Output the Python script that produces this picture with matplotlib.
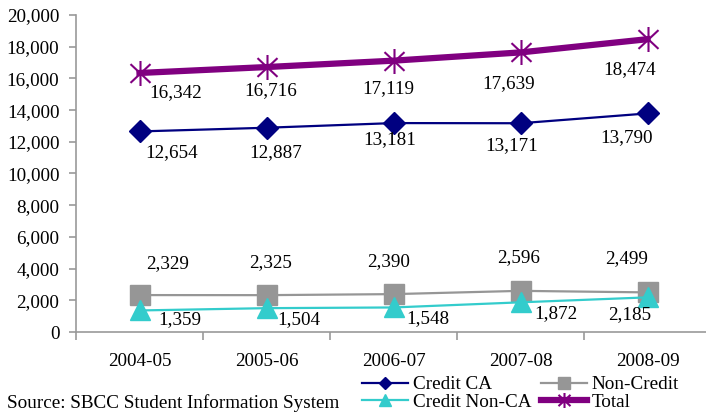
import matplotlib
matplotlib.use("Agg")
import matplotlib.pyplot as plt
from matplotlib.path import Path
from matplotlib.ticker import FuncFormatter, FixedLocator

years = ["2004-05", "2005-06", "2006-07", "2007-08", "2008-09"]
credit_ca = [12654, 12887, 13181, 13171, 13790]
non_credit = [2329, 2325, 2390, 2596, 2499]
credit_non_ca = [1359, 1504, 1548, 1872, 2185]
total = [16342, 16716, 17119, 17639, 18474]

# label offsets in pixels (dx, dy) for each series
off_total = [(36, -20), (4, -24), (-5, -28), (-12, -31), (-18, -30)]
off_ca = [(32, -21), (9, -25), (-4, -17), (-9, -22), (-21, -24)]
off_nc = [(28, 31), (4, 33), (-5, 33), (-2, 33), (-21, 34)]
off_nca = [(40, -9), (32, -11), (34, -11), (35, -11), (-18, -17)]

plt.rcParams["font.family"] = ["Liberation Serif", "DejaVu Serif"]
FS = 13.8

# asterisk marker: vertical bar plus an X
star = Path(
    [(0, -1), (0, 1), (-0.8, -0.75), (0.8, 0.75), (-0.8, 0.75), (0.8, -0.75)],
    [Path.MOVETO, Path.LINETO, Path.MOVETO, Path.LINETO, Path.MOVETO, Path.LINETO],
)

fig = plt.figure(figsize=(7.06, 4.15), dpi=100)
ax = fig.add_axes([76 / 706, 1 - 332 / 415, 635 / 706, 317 / 415])

x = list(range(len(years)))
c_ca, c_nc, c_nca, c_tot = "#000080", "#969696", "#33CCCC", "#800080"

l_ca, = ax.plot(x, credit_ca, color=c_ca, lw=1.6, marker="D", ms=11, label="Credit CA", clip_on=False)
l_nc, = ax.plot(x, non_credit, color=c_nc, lw=1.6, marker="s", ms=15, label="Non-Credit", clip_on=False)
l_nca, = ax.plot(x, credit_non_ca, color=c_nca, lw=1.6, marker="^", ms=15, label="Credit Non-CA", clip_on=False)
l_tot, = ax.plot(x, total, color=c_tot, lw=4.5, marker=star, ms=18, mew=1.5, mec=c_tot, label="Total", clip_on=False)

def label_series(vals, offs):
    for xi, v, (dx, dy) in zip(x, vals, offs):
        ax.annotate(f"{v:,}", (xi, v), xytext=(dx, dy), textcoords="offset pixels",
                    ha="center", va="center", fontsize=FS, color="black", zorder=5)

label_series(total, off_total)
label_series(credit_ca, off_ca)
label_series(non_credit, off_nc)
label_series(credit_non_ca, off_nca)

ax.set_xlim(-0.5, 4.5)
ax.set_ylim(0, 20000)
ax.set_yticks(range(0, 20001, 2000))
ax.yaxis.set_major_formatter(FuncFormatter(lambda v, p: f"{int(v):,}"))
ax.set_xticks(x)
ax.set_xticklabels(years)
ax.xaxis.set_minor_locator(FixedLocator([-0.5, 0.5, 1.5, 2.5, 3.5, 4.5]))

spine_c = "#999999"
for s in ["top", "right"]:
    ax.spines[s].set_visible(False)
for s in ["left", "bottom"]:
    ax.spines[s].set_color(spine_c)
    ax.spines[s].set_linewidth(1.2)

ax.tick_params(axis="y", direction="out", length=5, width=1.2, color=spine_c, pad=7, labelsize=FS)
ax.tick_params(axis="x", which="major", length=0, pad=15, labelsize=FS)
ax.tick_params(axis="x", which="minor", direction="out", length=6, width=1.2, color=spine_c)

fig.legend(handles=[l_ca, l_nca, l_nc, l_tot], ncol=2, frameon=False, fontsize=FS,
           loc="upper left", bbox_to_anchor=(362 / 706, 1 - 376 / 415),
           borderpad=0, borderaxespad=0, handlelength=2.4, handletextpad=0.25,
           columnspacing=0.5, labelspacing=0.0, markerscale=0.6)

fig.text(7 / 706, 1 - 403 / 415, "Source: SBCC Student Information System",
         fontsize=FS, va="center", ha="left")

fig.savefig("out.png", dpi=100)
